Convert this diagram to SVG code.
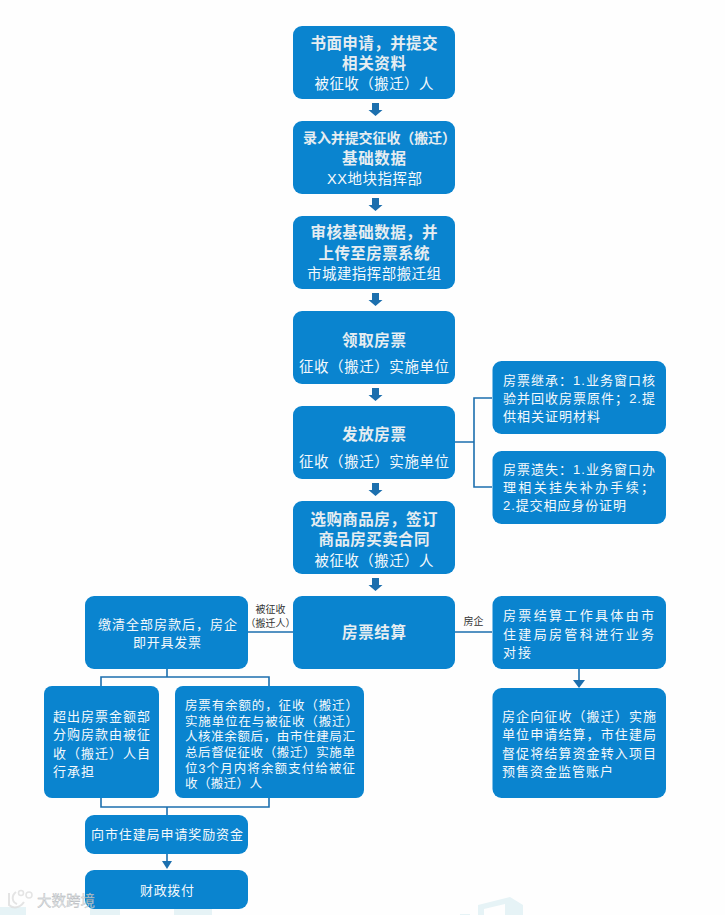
<svg xmlns="http://www.w3.org/2000/svg" width="725" height="915" viewBox="0 0 725 915">
<style>
text{font-family:"Liberation Sans","Noto Sans CJK SC",sans-serif;fill:#f4f9fc}
.box{fill:#0a84cf}
.h{font-size:15.5px;font-weight:700;fill:#e6edf1;text-anchor:middle}
.n{font-size:14px;font-weight:700;fill:#e6edf1}
.s{font-size:14.5px;text-anchor:middle}
.t{font-size:13px}
.u{font-size:12.500px}
.l{font-size:10px;fill:#333;text-anchor:middle}
.c{fill:none;stroke:#1c6fae;stroke-width:1.6}
.a{fill:#1c6fae}
</style>
<rect width="725" height="915" fill="#fefefe"/>
<g id="faint" fill="#e6f3f6">
<rect x="0" y="907" width="26" height="8"/>
<rect x="90" y="907" width="30" height="8"/>
<rect x="174" y="907" width="38" height="8"/>
<path d="M478 905L510 897L523 905V915H505V904L484 909V915H478Z"/>
<rect x="460" y="914" width="10" height="1"/>
</g>
<g id="connectors">
<path class="a" id="ar1" d="M372 103h7v7h3.500l-7 6-7-6h3.500z"/>
<path class="a" id="ar2" d="M372 198h7v7h3.500l-7 6-7-6h3.500z"/>
<path class="a" id="ar3" d="M372 293h7v7h3.500l-7 6-7-6h3.500z"/>
<path class="a" id="ar4" d="M372 388h7v7h3.500l-7 6-7-6h3.500z"/>
<path class="a" id="ar5" d="M372 483h7v7h3.500l-7 6-7-6h3.500z"/>
<path class="a" id="ar6" d="M372 578h7v7h3.500l-7 6-7-6h3.500z"/>
<path class="c" d="M455 442H474M492 398H474V487H492"/>
<path class="c" d="M248 632H293M455 632H492"/>
<path class="c" d="M579 669V681"/>
<path class="a" d="M573 680H585L579 688Z"/>
<path class="c" d="M167 669V677M101 686V677H269V686"/>
<path class="c" d="M101 798V807H269V798M167 807V815"/>
<path class="c" d="M167 854V862"/>
<path class="a" d="M162 861H172L167 869Z"/>
</g>
<g id="n1"><rect class="box" x="293" y="26" width="162" height="73" rx="9"/>
<text class="h" x="374" y="48.500" textLength="127">书面申请&#xFF0C;并提交</text>
<text class="h" x="374" y="68.500" textLength="64">相关资料</text>
<text class="s" x="374" y="88.500" textLength="119">被征收&#xFF08;搬迁&#xFF09;人</text></g>
<g id="n2"><rect class="box" x="293" y="121" width="162" height="73" rx="9"/>
<text class="n" x="303" y="143" textLength="153">录入并提交征收&#xFF08;搬迁&#xFF09;</text>
<text class="h" x="374" y="163.500" textLength="64">基础数据</text>
<text class="s" x="374.500" y="183.500" textLength="95">XX地块指挥部</text></g>
<g id="n3"><rect class="box" x="293" y="216" width="162" height="73" rx="9"/>
<text class="h" x="374" y="238" textLength="127">审核基础数据&#xFF0C;并</text>
<text class="h" x="374" y="258.500" textLength="111">上传至房票系统</text>
<text class="s" x="374" y="278.500" textLength="134">市城建指挥部搬迁组</text></g>
<g id="n4"><rect class="box" x="293" y="311" width="162" height="73" rx="9"/>
<text class="h" x="374" y="345.500" textLength="64">领取房票</text>
<text class="s" x="374" y="371.500" textLength="150">征收&#xFF08;搬迁&#xFF09;实施单位</text></g>
<g id="n5"><rect class="box" x="293" y="406" width="162" height="73" rx="9"/>
<text class="h" x="374" y="439.500" textLength="64">发放房票</text>
<text class="s" x="374" y="466.500" textLength="150">征收&#xFF08;搬迁&#xFF09;实施单位</text></g>
<g id="n6"><rect class="box" x="293" y="501" width="162" height="73" rx="9"/>
<text class="h" x="374" y="524.500" textLength="127">选购商品房&#xFF0C;签订</text>
<text class="h" x="374" y="544.500" textLength="111">商品房买卖合同</text>
<text class="s" x="374" y="565.500" textLength="119">被征收&#xFF08;搬迁&#xFF09;人</text></g>
<g id="n7"><rect class="box" x="293" y="596" width="162" height="73" rx="9"/>
<text class="h" x="374" y="637.500" textLength="64">房票结算</text></g>
<g id="r1"><rect class="box" x="492.500" y="361" width="173.500" height="73" rx="9"/>
<text class="t" x="503" y="385" textLength="152">房票继承&#xFF1A;1.业务窗口核</text>
<text class="t" x="503" y="403" textLength="152">验并回收房票原件&#xFF1B;2.提</text>
<text class="t" x="503" y="421" textLength="97">供相关证明材料</text></g>
<g id="r2"><rect class="box" x="492.500" y="451" width="173.500" height="73" rx="9"/>
<text class="t" x="503" y="474" textLength="152">房票遗失&#xFF1A;1.业务窗口办</text>
<text class="t" x="503" y="492" textLength="151">理相关挂失补办手续&#xFF1B;</text>
<text class="t" x="503" y="510" textLength="123">2.提交相应身份证明</text></g>
<g id="r3"><rect class="box" x="492.500" y="596" width="173.500" height="73" rx="9"/>
<text class="t" x="503" y="620" textLength="151">房票结算工作具体由市</text>
<text class="t" x="503" y="639" textLength="151">住建局房管科进行业务</text>
<text class="t" x="503" y="657" textLength="28">对接</text></g>
<g id="r4"><rect class="box" x="492.500" y="688" width="173.500" height="110" rx="9"/>
<text class="t" x="502" y="721" textLength="154">房企向征收&#xFF08;搬迁&#xFF09;实施</text>
<text class="t" x="502" y="739" textLength="154">单位申请结算&#xFF0C;市住建局</text>
<text class="t" x="502" y="758" textLength="154">督促将结算资金转入项目</text>
<text class="t" x="502" y="776" textLength="111">预售资金监管账户</text></g>
<g id="l1"><rect class="box" x="85" y="596" width="163" height="73" rx="9"/>
<text class="t" x="98" y="629" textLength="139">缴清全部房款后&#xFF0C;房企</text>
<text class="t" x="133" y="647" textLength="68">即开具发票</text></g>
<g id="l2"><rect class="box" x="44" y="686" width="115" height="112" rx="8"/>
<text class="t" x="53" y="721" textLength="97">超出房票金额部</text>
<text class="t" x="53" y="739" textLength="97">分购房款由被征</text>
<text class="t" x="53" y="758" textLength="97">收&#xFF08;搬迁&#xFF09;人自</text>
<text class="t" x="53" y="776" textLength="41">行承担</text></g>
<g id="l3"><rect class="box" x="175" y="686" width="189" height="112" rx="8"/>
<text class="u" x="185" y="710" textLength="173">房票有余额的&#xFF0C;征收&#xFF08;搬迁&#xFF09;</text>
<text class="u" x="185" y="726" textLength="173">实施单位在与被征收&#xFF08;搬迁&#xFF09;</text>
<text class="u" x="185" y="741" textLength="170">人核准余额后&#xFF0C;由市住建局汇</text>
<text class="u" x="185" y="757" textLength="170">总后督促征收&#xFF08;搬迁&#xFF09;实施单</text>
<text class="u" x="185" y="773" textLength="170">位3个月内将余额支付给被征</text>
<text class="u" x="185" y="788" textLength="77">收&#xFF08;搬迁&#xFF09;人</text></g>
<g id="l4"><rect class="box" x="85" y="815" width="163" height="39" rx="9"/>
<text class="t" x="91" y="839" textLength="152">向市住建局申请奖励资金</text></g>
<g id="l5"><rect class="box" x="85" y="870" width="163" height="39" rx="9"/>
<text class="t" x="140" y="895" textLength="54">财政拨付</text></g>
<g id="labels">
<text class="l" x="270.500" y="613">被征收</text>
<text class="l" x="270.500" y="627" textLength="50">&#xFF08;搬迁人&#xFF09;</text>
<text class="l" x="473.500" y="625">房企</text>
</g>
<g id="watermark" opacity=".85">
<path d="M9 893V905C13 909 20 908 24 902M16 892C11 896 12 902 17 904" fill="none" stroke="#e0e0e0" stroke-width="2"/>
<circle cx="21" cy="893" r="2.500" fill="none" stroke="#e0e0e0" stroke-width="1.500"/>
<circle cx="29" cy="895" r="3" fill="none" stroke="#e0e0e0" stroke-width="1.500"/>
<text x="37" y="906" font-size="14.500" textLength="58" style="fill:#dfe3e6;stroke:#9aa0a4;stroke-width:.3">大数跨境</text>
</g>
</svg>
